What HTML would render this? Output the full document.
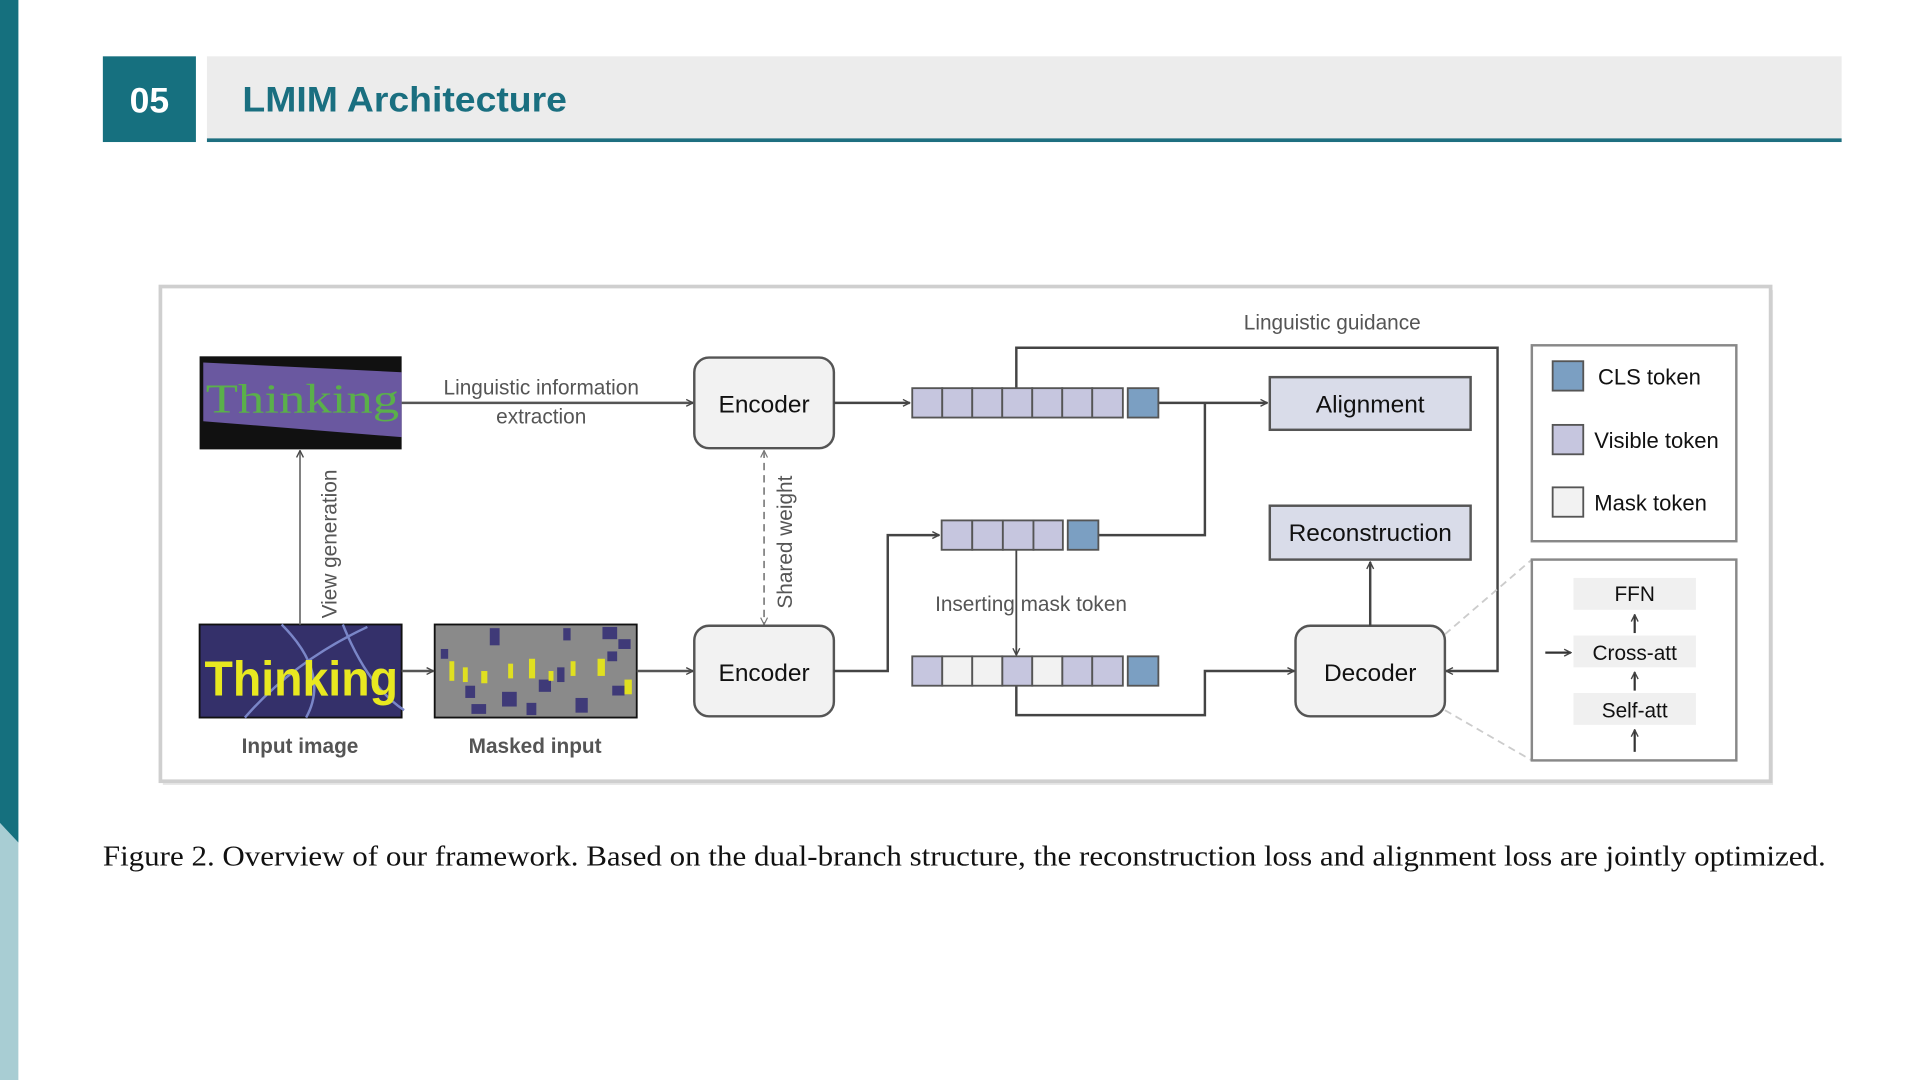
<!DOCTYPE html>
<html><head><meta charset="utf-8"><style>
html,body{margin:0;padding:0;background:#fff;width:1920px;height:1080px;overflow:hidden}
svg{display:block}
</style></head><body>
<svg width="1920" height="1080" viewBox="0 0 1568 882" xmlns="http://www.w3.org/2000/svg" font-family="Liberation Sans, DejaVu Sans, sans-serif">
<defs>
<marker id="a" viewBox="0 0 10 10" refX="9" refY="5" markerWidth="7" markerHeight="7" orient="auto-start-reverse" markerUnits="userSpaceOnUse"><path d="M1,1 L9,5 L1,9" fill="none" stroke="#444" stroke-width="1.6"/></marker>
<marker id="g" viewBox="0 0 10 10" refX="9" refY="5" markerWidth="7" markerHeight="7" orient="auto-start-reverse" markerUnits="userSpaceOnUse"><path d="M1,1 L9,5 L1,9" fill="none" stroke="#777" stroke-width="1.4"/></marker>
</defs>
<rect x="0" y="0" width="15" height="882" fill="#a8cdd3"/>
<polygon points="0,0 15,0 15,688 0,672" fill="#15707e"/>
<rect x="84" y="46" width="76" height="70" fill="#16707f"/>
<text x="122" y="92" font-size="29" font-weight="bold" fill="#fff" text-anchor="middle">05</text>
<rect x="169" y="46" width="1335" height="67" fill="#ececec"/>
<rect x="169" y="113" width="1335" height="3" fill="#1e6f80"/>
<text x="198" y="91" font-size="29" font-weight="bold" fill="#1a6f80" textLength="265" lengthAdjust="spacingAndGlyphs">LMIM Architecture</text>
<rect x="133" y="237" width="1315" height="404" fill="#e6e6e6"/>
<rect x="131" y="234" width="1315" height="404" fill="#fff" stroke="#cfcfcf" stroke-width="3"/>
<rect x="163" y="291" width="165" height="76" fill="#111"/>
<polygon points="166,296 328,304 328,357 166,344" fill="#6a58a0"/>
<text x="168" y="337" font-size="34" fill="#5ab04a" style="font-family:'Liberation Serif',serif" textLength="158" lengthAdjust="spacingAndGlyphs">Thinking</text>
<rect x="163" y="510" width="165" height="76" fill="#34306a" stroke="#111" stroke-width="1.5"/>
<path d="M230,510 Q270,550 250,586 M280,510 Q300,560 330,580 M200,586 Q240,540 300,512" stroke="#7a86c8" stroke-width="2" fill="none"/>
<text x="167" y="568" font-size="40" font-weight="bold" fill="#e8e820" textLength="158" lengthAdjust="spacingAndGlyphs">Thinking</text>
<rect x="355" y="510" width="165" height="76" fill="#8a8a8a" stroke="#111" stroke-width="1.5"/>
<g fill="#3f3a78">
<rect x="400" y="513" width="8" height="14"/><rect x="460" y="513" width="6" height="10"/><rect x="492" y="512" width="12" height="10"/><rect x="505" y="522" width="10" height="8"/><rect x="496" y="532" width="8" height="8"/><rect x="380" y="560" width="8" height="10"/><rect x="410" y="565" width="12" height="12"/><rect x="440" y="555" width="10" height="10"/><rect x="470" y="570" width="10" height="12"/><rect x="385" y="575" width="12" height="8"/><rect x="500" y="560" width="10" height="8"/><rect x="430" y="574" width="8" height="10"/><rect x="455" y="545" width="6" height="12"/><rect x="360" y="530" width="6" height="8"/>
</g>
<g fill="#e0e020">
<rect x="367" y="540" width="4" height="16"/><rect x="378" y="545" width="4" height="12"/><rect x="393" y="548" width="5" height="10"/><rect x="415" y="542" width="4" height="12"/><rect x="432" y="538" width="5" height="16"/><rect x="448" y="548" width="4" height="8"/><rect x="466" y="540" width="4" height="12"/><rect x="488" y="538" width="6" height="14"/><rect x="510" y="555" width="6" height="12"/>
</g>
<g font-size="17" fill="#555" font-weight="bold" text-anchor="middle">
<text x="245" y="615">Input image</text><text x="437" y="615">Masked input</text>
</g>
<g stroke="#555" stroke-width="2" fill="none">
<line x1="245" y1="510" x2="245" y2="368" marker-end="url(#a)" stroke="#777" stroke-width="1.5"/>
<line x1="328" y1="329" x2="566" y2="329" marker-end="url(#a)"/>
<line x1="328" y1="548" x2="354" y2="548" marker-end="url(#a)"/>
<line x1="520" y1="548" x2="566" y2="548" marker-end="url(#a)"/>
<line x1="624" y1="368" x2="624" y2="510" stroke="#888" stroke-width="1.5" stroke-dasharray="6,4" marker-start="url(#g)" marker-end="url(#g)"/>
</g>
<text transform="translate(275,505) rotate(-90)" font-size="17" fill="#555">View generation</text>
<text transform="translate(647,497) rotate(-90)" font-size="17" fill="#555">Shared weight</text>
<g font-size="17" fill="#555" text-anchor="middle">
<text x="442" y="322">Linguistic information</text><text x="442" y="346">extraction</text>
<text x="1088" y="269">Linguistic guidance</text>
</g>
<g fill="#f2f2f2" stroke="#555" stroke-width="2">
<rect x="567" y="292" width="114" height="74" rx="12"/>
<rect x="567" y="511" width="114" height="74" rx="12"/>
<rect x="1058" y="511" width="122" height="74" rx="12"/>
</g>
<g font-size="20" fill="#111" text-anchor="middle">
<text x="624" y="337">Encoder</text><text x="624" y="556">Encoder</text><text x="1119" y="556">Decoder</text>
</g>
<g fill="#d9dce9" stroke="#555" stroke-width="2">
<rect x="1037" y="308" width="164" height="43"/>
<rect x="1037" y="413" width="164" height="44"/>
</g>
<g font-size="20" fill="#111" text-anchor="middle">
<text x="1119" y="337">Alignment</text><text x="1119" y="442">Reconstruction</text>
</g>
<g stroke="#444" stroke-width="2" fill="none">
<line x1="681" y1="329" x2="743" y2="329" marker-end="url(#a)"/>
<polyline points="830,317 830,284 1223,284 1223,548 1181,548" marker-end="url(#a)"/>
<line x1="946" y1="329" x2="1035" y2="329" marker-end="url(#a)"/>
<polyline points="681,548 725,548 725,437 767,437" marker-end="url(#a)"/>
<polyline points="897,437 984,437 984,329"/>
<polyline points="830,560 830,584 984,584 984,548 1057,548" marker-end="url(#a)"/>
<line x1="1119" y1="511" x2="1119" y2="459" marker-end="url(#a)"/>
<line x1="1180" y1="518" x2="1251" y2="457" stroke="#ccc" stroke-width="1.5" stroke-dasharray="6,4"/>
<line x1="1180" y1="580" x2="1251" y2="621" stroke="#ccc" stroke-width="1.5" stroke-dasharray="6,4"/>
</g>
<text x="842" y="499" font-size="17" fill="#555" text-anchor="middle">Inserting mask token</text>
<line x1="830" y1="449" x2="830" y2="535" stroke="#444" stroke-width="1.5" marker-end="url(#a)"/>
<g stroke="#555" stroke-width="1.5">
<g fill="#c6c6df">
<rect x="745" y="317" width="24.5" height="24"/><rect x="769.5" y="317" width="24.5" height="24"/><rect x="794" y="317" width="24.5" height="24"/><rect x="818.5" y="317" width="24.5" height="24"/><rect x="843" y="317" width="24.5" height="24"/><rect x="867.5" y="317" width="24.5" height="24"/><rect x="892" y="317" width="25" height="24"/>
<rect x="769" y="425" width="25" height="24"/><rect x="794" y="425" width="25" height="24"/><rect x="819" y="425" width="25" height="24"/><rect x="844" y="425" width="24" height="24"/>
<rect x="745" y="536" width="24.5" height="24"/><rect x="818.5" y="536" width="24.5" height="24"/><rect x="867.5" y="536" width="24.5" height="24"/><rect x="892" y="536" width="25" height="24"/>
</g>
<g fill="#f2f2f2">
<rect x="769.5" y="536" width="24.5" height="24"/><rect x="794" y="536" width="24.5" height="24"/><rect x="843" y="536" width="24.5" height="24"/>
</g>
<g fill="#7b9fc2">
<rect x="921" y="317" width="25" height="24"/><rect x="872" y="425" width="25" height="24"/><rect x="921" y="536" width="25" height="24"/>
</g>
</g>
<rect x="1251" y="282" width="167" height="160" fill="#fff" stroke="#888" stroke-width="2"/>
<g stroke="#555" stroke-width="1.5">
<rect x="1268" y="295" width="25" height="24" fill="#7b9fc2"/>
<rect x="1268" y="347" width="25" height="24" fill="#c6c6df"/>
<rect x="1268" y="398" width="25" height="24" fill="#f2f2f2"/>
</g>
<g font-size="18" fill="#111">
<text x="1305" y="314">CLS token</text><text x="1302" y="366">Visible token</text><text x="1302" y="417">Mask token</text>
</g>
<rect x="1251" y="457" width="167" height="164" fill="#fff" stroke="#888" stroke-width="2"/>
<g fill="#f0f0f0">
<rect x="1285" y="472" width="100" height="26"/><rect x="1285" y="519" width="100" height="26"/><rect x="1285" y="566" width="100" height="26"/>
</g>
<g font-size="17" fill="#111" text-anchor="middle">
<text x="1335" y="491">FFN</text><text x="1335" y="539">Cross-att</text><text x="1335" y="586">Self-att</text>
</g>
<g stroke="#333" stroke-width="1.8" fill="none">
<line x1="1335" y1="517" x2="1335" y2="502" marker-end="url(#a)"/>
<line x1="1335" y1="564" x2="1335" y2="549" marker-end="url(#a)"/>
<line x1="1335" y1="614" x2="1335" y2="596" marker-end="url(#a)"/>
<line x1="1262" y1="533" x2="1283" y2="533" marker-end="url(#a)"/>
</g>
<text x="84" y="707" font-size="23" fill="#111" style="font-family:'Liberation Serif',serif" textLength="1407" lengthAdjust="spacingAndGlyphs">Figure 2.  Overview of our framework.  Based on the dual-branch structure, the reconstruction loss and alignment loss are jointly optimized.</text>
</svg>
</body></html>
